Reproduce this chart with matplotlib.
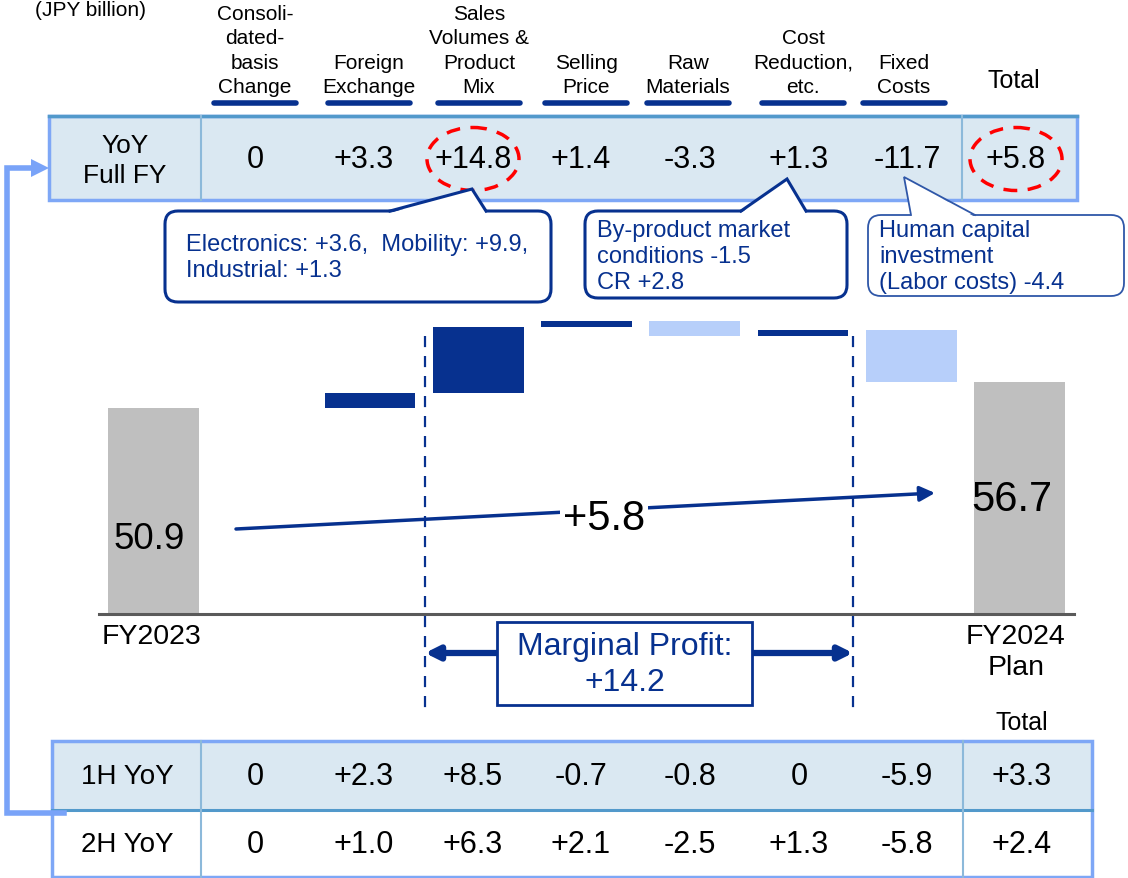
import matplotlib.pyplot as plt
from matplotlib.patches import FancyBboxPatch, Rectangle, Ellipse, Polygon

plt.rcParams['font.family'] = ['Liberation Sans', 'DejaVu Sans']

# --- operating profit bridge, JPY billion ---
fy2023 = 50.9
factors = ["Consoli-\ndated-\nbasis\nChange", "Foreign\nExchange",
           "Sales\nVolumes &\nProduct\nMix", "Selling\nPrice", "Raw\nMaterials",
           "Cost\nReduction,\netc.", "Fixed\nCosts"]
yoy_full = [0, 3.3, 14.8, 1.4, -3.3, 1.3, -11.7]
yoy_1h = [0, 2.3, 8.5, -0.7, -0.8, 0, -5.9]
yoy_2h = [0, 1.0, 6.3, 2.1, -2.5, 1.3, -5.8]
total_full = 5.8
total_1h = 3.3
total_2h = 2.4
fy2024 = round(fy2023 + total_full, 1)
marginal = round(sum(yoy_full[2:6]), 1)

note_sales = "Electronics: +3.6,  Mobility: +9.9,\nIndustrial: +1.3"
note_cr = "By-product market\nconditions -1.5\nCR +2.8"
note_fixed = "Human capital\ninvestment\n(Labor costs) -4.4"

NAVY = "#07318F"
LIGHT = "#B7CFFA"
GREY = "#BFBFBF"
CELL = "#DAE8F2"
EDGE = "#7EA7F6"
W, H = 1128, 879


def fmt(v):
    return "0" if v == 0 else f"{v:+.1f}"


fig = plt.figure(figsize=(W / 100, H / 100), dpi=100)

# --- waterfall ---
ax = fig.add_axes([99.4 / W, (H - 615) / H, 974.2 / W, 315 / H])
ax.set_xlim(-0.5, 8.5)
ax.set_ylim(4.6, 75.4)
for s in ["top", "left", "right"]:
    ax.spines[s].set_visible(False)
ax.spines["bottom"].set_color("#5A5A5A")
ax.spines["bottom"].set_linewidth(2.2)
ax.set_xticks([])
ax.set_yticks([])

ax.bar([0, 8], [fy2023, fy2024], width=0.84, color=GREY)
cum = fy2023
for i, v in enumerate(yoy_full):
    bottom = cum if v >= 0 else cum + v
    ax.bar(i + 1, abs(v), bottom=bottom, width=0.84,
           color=NAVY if v > 0 else LIGHT, linewidth=0)
    cum += v

# --- overlay in pixel space for tables and callouts ---
ov = fig.add_axes([0, 0, 1, 1])
ov.set_xlim(0, W)
ov.set_ylim(H, 0)
ov.axis("off")

ov.text(35, 1, "(JPY billion)", fontsize=15, va="top")

col_x = [255, 364, 473, 581, 690, 799, 907]
hdr_x = [255, 369, 479, 586, 688, 803, 904]
for x, name in zip(hdr_x, factors):
    ov.text(x, 97, name, fontsize=15, ha="center", va="bottom", linespacing=1.36)
    ov.plot([x - 41, x + 41], [104, 104], color=NAVY, lw=4, solid_capstyle="round")
ov.text(1014, 81, "Total", fontsize=18, ha="center", va="center")

# full-year row
ov.add_patch(Rectangle((49, 117), 1028, 84, facecolor=CELL, edgecolor=EDGE, lw=2.5))
ov.plot([49, 1077], [117, 117], color="#5299CB", lw=2.5)
for x in [201, 962]:
    ov.plot([x, x], [117, 201], color="#8CB9DA", lw=1.5)
ov.text(125, 161, "YoY\nFull FY", fontsize=19, ha="center", va="center", linespacing=1.3)
for x, v in zip(col_x, yoy_full):
    ov.text(x, 160, fmt(v), fontsize=22, ha="center", va="center")
ov.text(1016, 160, fmt(total_full), fontsize=22, ha="center", va="center")
for cx in [473, 1016]:
    ov.add_patch(Ellipse((cx, 160), 92, 63, fill=False, edgecolor="#FF0000",
                         lw=2.5, ls=(0, (4, 3))))


# callouts with a pointer up to the figure they explain
def callout(x0, y0, x1, y1, tip, base_l, base_r, text, text_xy, lw, color):
    ov.add_patch(FancyBboxPatch((x0, y0), x1 - x0, y1 - y0,
                                boxstyle="round,pad=0,rounding_size=13",
                                facecolor="white", edgecolor=color, lw=lw))
    by = base_l[1]
    ov.add_patch(Polygon([(base_l[0], by + 2), tip, (base_r[0], by + 2)],
                         closed=True, facecolor="white", edgecolor="none"))
    ov.plot([base_l[0], tip[0], base_r[0]], [base_l[1], tip[1], base_r[1]],
            color=color, lw=lw, solid_joinstyle="miter")
    ov.text(text_xy[0], text_xy[1], text, fontsize=17, color=NAVY,
            va="center", linespacing=1.24)


callout(165, 212, 551, 303, (472, 190), (390, 212), (486, 212), note_sales,
        (186, 258), 2.2, NAVY)
callout(585, 212, 847, 299, (787, 180), (741, 212), (806, 212), note_cr,
        (597, 257), 2.2, NAVY)
callout(868, 216, 1124, 297, (904, 178), (911, 216), (975, 216), note_fixed,
        (879, 257), 1.3, "#2F57A8")

# bar values and the overall change arrow
ov.text(149, 540, f"{fy2023}", fontsize=26.5, ha="center", va="center")
ov.text(1012, 500, f"{fy2024}", fontsize=30, ha="center", va="center")
ov.annotate("", xy=(935, 494), xytext=(236, 530),
            arrowprops=dict(arrowstyle="-|>,head_length=0.9,head_width=0.45",
                            color=NAVY, lw=2.5, shrinkA=0, shrinkB=0))
ov.text(604, 519, fmt(total_full), fontsize=30, ha="center", va="center",
        bbox=dict(facecolor="white", edgecolor="none", pad=2))
ov.text(152, 637, "FY2023", fontsize=20.5, ha="center", va="center")
ov.text(1016, 653, "FY2024\nPlan", fontsize=20.5, ha="center", va="center", linespacing=1.25)

# marginal profit span
for x in [425, 853]:
    ov.plot([x, x], [337, 712], color=NAVY, lw=1.6, ls=(0, (5, 4)))
ov.annotate("", xy=(425, 654), xytext=(853, 654),
            arrowprops=dict(arrowstyle="<|-|>,head_length=0.8,head_width=0.4",
                            color=NAVY, lw=4.5, shrinkA=0, shrinkB=0))
ov.add_patch(Rectangle((497, 623), 255, 83, facecolor="white", edgecolor=NAVY,
                       lw=2, zorder=5))
ov.text(625, 665, f"Marginal Profit:\n{fmt(marginal)}", fontsize=23, color=NAVY,
        ha="center", va="center", linespacing=1.26, zorder=6)

# half-year table
ov.text(1022, 723, "Total", fontsize=18, ha="center", va="center")
ov.add_patch(Rectangle((52, 742), 1040, 69, facecolor=CELL, edgecolor="none"))
ov.add_patch(Rectangle((52, 742), 1040, 136, facecolor="none", edgecolor=EDGE, lw=2.5))
ov.plot([52, 1092], [811, 811], color="#5299CB", lw=2.2)
for x in [201, 963]:
    ov.plot([x, x], [742, 878], color="#8CB9DA", lw=1.5)
for y, label, vals, tot in [(777, "1H YoY", yoy_1h, total_1h),
                            (845, "2H YoY", yoy_2h, total_2h)]:
    ov.text(127, y, label, fontsize=20, ha="center", va="center")
    for x, v in zip(col_x, vals):
        ov.text(x, y, fmt(v), fontsize=22, ha="center", va="center")
    ov.text(1022, y, fmt(tot), fontsize=22, ha="center", va="center")

# connector from half-year table back to the full-year row
ov.plot([64, 7, 7, 34], [814, 814, 169, 169], color="#79A3F8", lw=4,
        solid_joinstyle="miter")
ov.add_patch(Polygon([(31, 160), (49, 169), (31, 178)], closed=True,
                     facecolor="#79A3F8", edgecolor="none"))

fig.savefig("out.png", dpi=100)
